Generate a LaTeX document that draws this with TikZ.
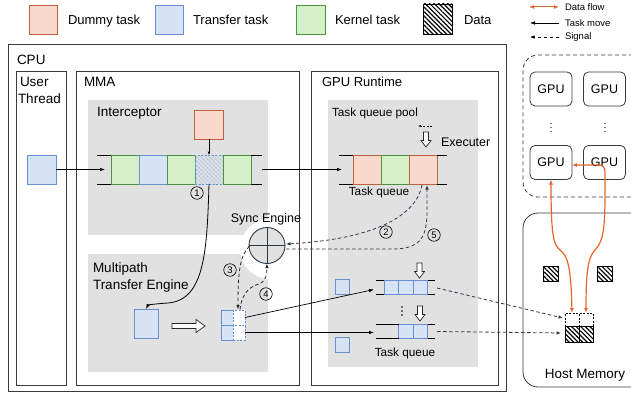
\documentclass[tikz,border=0pt]{standalone}
\usepackage{fontspec}
\setmainfont{Liberation Sans}
\usetikzlibrary{arrows.meta,patterns.meta}
\definecolor{dumF}{HTML}{F9D9CB}
\definecolor{dumD}{HTML}{C0603E}
\definecolor{xfF}{HTML}{D5E3F5}
\definecolor{xfD}{HTML}{6A8FD0}
\definecolor{kF}{HTML}{D3F0C8}
\definecolor{kD}{HTML}{4E9440}
\definecolor{panel}{HTML}{E1E1E1}
\definecolor{edge}{HTML}{3A3A3A}
\definecolor{flow}{HTML}{E5662A}
\definecolor{sig}{HTML}{2C3A48}
\definecolor{hatchblue}{HTML}{B3C8E6}
\begin{document}
\begin{tikzpicture}[x=1pt,y=-1pt,
  every node/.style={inner sep=0pt,outer sep=0pt},
  sz/.style 2 args={minimum width=#1pt,minimum height=#2pt},
  dummy/.style={draw=dumD,fill=dumF,line width=0.8pt},
  xfer/.style={draw=xfD,fill=xfF,line width=0.8pt},
  kern/.style={draw=kD,fill=kF,line width=0.8pt},
  datahatch/.style={draw=black,line width=0.6pt,fill=white,pattern={Lines[angle=-45,distance=3.2pt,line width=1.2pt]},pattern color=black},
  emptycell/.style={draw=#1,fill=white,line width=0.7pt,dash pattern=on 2pt off 1.5pt},
  container/.style={draw=edge,line width=0.8pt},
  lbl/.style={anchor=base west,font=\fontsize{13.5}{15}\selectfont},
  leg/.style={anchor=base west,font=\fontsize{13}{15}\selectfont},
  move/.style={-{Latex[length=5pt,width=3.6pt]},line width=0.7pt},
  signal/.style={-{Latex[length=4.5pt,width=3.5pt]},dash pattern=on 3.5pt off 2.5pt,line width=0.8pt,draw=sig},
  dataflow/.style={{Latex[length=5pt,width=4pt]}-{Latex[length=5pt,width=4pt]},line width=1.2pt,draw=flow},
  qline/.style={line width=0.8pt,draw=black},
  hollow/.style={draw=black!85,fill=white,line width=0.7pt},
  num/.style={circle,draw,line width=0.65pt,minimum size=12.5pt,font=\fontsize{9.5}{10}\selectfont},
  gpu/.style={draw=edge,rounded corners=5pt,line width=0.8pt,minimum width=42pt,minimum height=34pt,font=\fontsize{12.5}{14}\selectfont},
  pics/downarr/.style={code={\draw[hollow] (-2.5,0) -- (2.5,0) -- (2.5,8.5) -- (5,8.5) -- (0,15) -- (-5,8.5) -- (-2.5,8.5) -- cycle;}}
]
\useasboundingbox (0,0) rectangle (631,393);

% ---------------- legend ----------------
\node[dummy,sz={28}{29}] (ldum) at (43,19.5) {};
\node[leg] (ldumt) at (68,25) {Dummy task};
\node[xfer,sz={28}{29}] (lxf) at (169,19.5) {};
\node[leg] (lxft) at (193,24.5) {Transfer task};
\node[kern,sz={29}{29}] (lkn) at (310.5,19.5) {};
\node[leg] (lknt) at (335,25) {Kernel task};
\node[datahatch,sz={29}{30}] (ldat) at (437.5,19) {};
\node[leg] (ldatt) at (464,24.5) {Data};
\coordinate (lf1) at (529,7); \coordinate (lf2) at (559,7);
\draw[dataflow,line width=1pt] (lf1) -- (lf2);
\node[anchor=base west,font=\fontsize{9.5}{10}\selectfont] (lft) at (565,10.5) {Data flow};
\coordinate (lm1) at (530,23); \coordinate (lm2) at (559,23);
\draw[move,line width=0.6pt] (lm2) -- (lm1);
\node[anchor=base west,font=\fontsize{9.5}{10}\selectfont] (lmt) at (565,26.5) {Task move};
\coordinate (ls1) at (530,37); \coordinate (ls2) at (559,37);
\draw[signal,draw=black,line width=0.6pt] (ls2) -- (ls1);
\node[anchor=base west,font=\fontsize{9.5}{10}\selectfont] (lst) at (565,39.5) {Signal};

% ---------------- panels ----------------
\node[fill=panel,sz={180}{135},anchor=north west] (icp) at (88,100) {};
\node[fill=panel,sz={180}{118},anchor=north west] (mte) at (88,254) {};
\node[fill=panel,sz={150}{267},anchor=north west] (pool) at (328,100) {};
\node[circle,fill=white,minimum size=60pt] (halo) at (270,249) {};

% ---------------- containers ----------------
\node[container,sz={498}{347},anchor=north west] (cpu) at (8,44) {};
\node[container,sz={50}{314},anchor=north west] (ut) at (16,71) {};
\node[container,sz={223}{314},anchor=north west] (mma) at (76,71) {};
\node[container,sz={187}{314},anchor=north west] (gpr) at (311,71) {};

\node[lbl] (cput) at (17,65) {CPU};
\node[lbl] (utt1) at (20,87) {User};
\node[lbl] (utt2) at (18,103) {Thread};
\node[lbl] (mmat) at (84,87) {MMA};
\node[lbl] (icpt) at (97,117) {Interceptor};
\node[lbl] (mtet1) at (93,272) {Multipath};
\node[lbl] (mtet2) at (93,289) {Transfer Engine};
\node[lbl,font=\fontsize{13}{15}\selectfont] (gprt) at (322,87) {GPU Runtime};
\node[lbl,font=\fontsize{11.8}{14}\selectfont] (poolt) at (332,117) {Task queue pool};

% ---------------- user thread ----------------
\node[xfer,sz={29}{29}] (utask) at (41.5,169.5) {};

% ---------------- interceptor queue ----------------
\node[kern,sz={28}{29}] (c1) at (125,169.5) {};
\node[xfer,sz={28}{29}] (c2) at (153,169.5) {};
\node[kern,sz={28}{29}] (c3) at (181,169.5) {};
\node[emptycell=xfD,sz={28}{29},pattern={Lines[angle=-45,distance=3pt,line width=1.1pt]},pattern color=hatchblue] (c4) at (209,169.5) {};
\node[kern,sz={28}{29}] (c5) at (237,169.5) {};
\coordinate (iqtl) at (97,155); \coordinate (iqbl) at (97,184);
\coordinate (iqtr) at (262,155); \coordinate (iqbr) at (262,184);
\draw[qline] (iqtl) -- (c1.north west) (iqbl) -- (c1.south west)
             (c5.north east) -- (iqtr) (c5.south east) -- (iqbr);
\node[dummy,sz={29}{29}] (dtop) at (209,124.5) {};
\draw[move,-{Latex[length=3.5pt,width=3pt]},line width=0.6pt] (dtop.south) -- (c4.north);
\coordinate (iqin) at (105,169.5);
\draw[move] (utask.east) -- (iqin);

% ---------------- GPU runtime task queue ----------------
\node[dummy,sz={28}{29}] (g1) at (367,169.5) {};
\node[kern,sz={28}{29}] (g2) at (395,169.5) {};
\node[dummy,sz={28}{29}] (g3) at (423,169.5) {};
\coordinate (gqtl) at (339,155); \coordinate (gqbl) at (339,184);
\coordinate (gqtr) at (447,155); \coordinate (gqbr) at (447,184);
\draw[qline] (gqtl) -- (g1.north west) (gqbl) -- (g1.south west)
             (g3.north east) -- (gqtr) (g3.south east) -- (gqbr);
\coordinate (iqout) at (262,169.5); \coordinate (gqin) at (342,169.5);
\draw[move] (iqout) -- (gqin);
\node[anchor=base,font=\fontsize{11.8}{14}\selectfont] (gqt) at (379,195) {Task queue};
\pic at (426,132) {downarr};
\node[lbl,font=\fontsize{12.5}{14}\selectfont] (exet) at (441,146) {Executer};
\coordinate (es1) at (432,126); \coordinate (es2) at (418,126);
\draw[signal,draw=black,line width=0.6pt,-{Latex[length=3pt,width=2.5pt]},dash pattern=on 2pt off 1.5pt] (es1) -- (es2);

% ---------------- bottom task queues ----------------
\node[xfer,sz={14.5}{14}] (q11) at (391.25,287) {};
\node[xfer,sz={14.5}{14}] (q12) at (405.75,287) {};
\node[xfer,sz={14.5}{14}] (q13) at (420.25,287) {};
\coordinate (q1tl) at (376,280); \coordinate (q1bl) at (376,294);
\coordinate (q1tr) at (435,280); \coordinate (q1br) at (435,294);
\draw[qline] (q1tl) -- (q11.north west) (q1bl) -- (q11.south west)
             (q13.north east) -- (q1tr) (q13.south east) -- (q1br);
\node[xfer,sz={14.5}{14}] (q22) at (405.75,331) {};
\node[xfer,sz={14.5}{14}] (q23) at (420.25,331) {};
\coordinate (q2tl) at (376,324); \coordinate (q2bl) at (376,338);
\coordinate (q2tr) at (435,324); \coordinate (q2br) at (435,338);
\draw[qline] (q2tl) -- (q22.north west) (q2bl) -- (q22.south west)
             (q23.north east) -- (q2tr) (q23.south east) -- (q2br);
\pic at (419.5,263) {downarr};
\pic at (420,306) {downarr};
\foreach \yy in {307,311,315} \fill (402,\yy) circle[radius=0.8pt];
\node[xfer,sz={14}{15}] (sb1) at (342,286.5) {};
\node[xfer,sz={14}{15}] (sb2) at (342,344.5) {};
\node[anchor=base,font=\fontsize{11.8}{14}\selectfont] (bqt) at (405,356) {Task queue};

% ---------------- multipath transfer engine ----------------
\node[xfer,sz={24}{29}] (mt) at (146,323.5) {};
\draw[hollow] (172,323.5) -- (196,323.5) -- (196,319.5) -- (205,326) -- (196,332.5) -- (196,328.5) -- (172,328.5) -- cycle;
\node[xfer,sz={12}{15}] (s11) at (227,317.5) {};
\node[xfer,sz={12}{15}] (s21) at (227,332.5) {};
\node[emptycell=xfD,sz={12}{15}] (s12) at (239,317.5) {};
\node[emptycell=xfD,sz={12}{15}] (s22) at (239,332.5) {};
\coordinate (q1in) at (374,289.5);
\coordinate (q2in) at (374,332.5);
\draw[move] (s12.east) -- (q1in);
\draw[move] (s22.east) -- (q2in);

% arrow 1
\draw[move,line width=0.8pt] (c4.south) .. controls (207,250) and (205,300) .. (168,303) .. controls (153,304) and (148,305) .. (mt.north);
\node[num] (n1) at (197,193) {1};

% ---------------- sync engine ----------------
\node[circle,draw=sig,fill=panel,line width=0.9pt,minimum size=36pt] (sync) at (267,245.5) {};
\draw[sig,line width=0.9pt] (sync.north) -- (sync.south) (sync.west) -- (sync.east);
\node[anchor=base,font=\fontsize{12.5}{14}\selectfont] (synct) at (266,222) {Sync Engine};

% signals 2 and 5
\coordinate (g3b2) at (422,185);
\coordinate (g3b5) at (427,185);
\coordinate (syr1) at (286,244);
\coordinate (syr2) at (286,249);
\draw[signal] (g3b2) .. controls (415,222) and (360,240) .. (syr1);
\draw[signal] (syr2) -- (392,249) .. controls (418,249) and (427,240) .. (427,212) -- (g3b5);
\node[num] (n2) at (386,232) {2};
\node[num] (n5) at (434,235) {5};

% signals 3 and 4
\coordinate (syl) at (249.5,246);
\coordinate (s3end) at (238,309.5);
\coordinate (s4start) at (240,309.5);
\draw[signal,draw=black!85] (syl) .. controls (240,256) and (238,270) .. (s3end);
\draw[signal,draw=black!85] (s4start) .. controls (242,291) and (252,286) .. (259,284) .. controls (266,281) and (267,275) .. (sync.south);
\node[num] (n3) at (230,270) {3};
\node[num] (n4) at (266,294) {4};

% ---------------- GPUs ----------------
\node[draw=edge,dash pattern=on 4pt off 3pt,line width=0.8pt,rounded corners=15pt,sz={132}{142},anchor=north west] (gpus) at (523,55) {};
\node[gpu] (gpu1) at (551,89) {GPU};
\node[gpu] (gpu2) at (604.5,89) {GPU};
\node[gpu] (gpu3) at (551,162.5) {GPU};
\node[gpu] (gpu4) at (604.5,162.5) {GPU};
\foreach \xx in {551,605} \foreach \yy in {123.5,127.5,131.5} \fill (\xx,\yy) circle[radius=0.7pt];

% ---------------- host memory ----------------
\node[draw=edge,line width=0.8pt,rounded corners=15pt,sz={132}{174},anchor=north west] (host) at (523,213) {};
\node[anchor=base,font=\fontsize{13.5}{15}\selectfont] (hostt) at (585,378) {Host Memory};
\node[datahatch,sz={15}{15}] (hd1) at (550.5,273.5) {};
\node[datahatch,sz={15}{15}] (hd2) at (604.5,273.5) {};
\node[emptycell=black,sz={14}{13}] (h11) at (572,319.5) {};
\node[emptycell=black,sz={14}{13}] (h12) at (586,319.5) {};
\node[datahatch,sz={14}{16}] (h21) at (572,334) {};
\node[datahatch,sz={14}{16}] (h22) at (586,334) {};

% dashed from queues to host
\coordinate (q1out) at (437,288);
\coordinate (q2out) at (437,331.5);
\coordinate (h1in) at (563,318);
\coordinate (h2in) at (561,333);
\draw[signal] (q1out) -- (h1in);
\draw[signal] (q2out) -- (h2in);

% data flow
\coordinate (g3in) at (572,165);
\draw[dataflow] (gpu3.south) .. controls (551,232) and (553,245) .. (560,250) .. controls (568,256) and (571,268) .. (h11.north);
\draw[dataflow] (h12.north) .. controls (586,265) and (589,256) .. (596,249) .. controls (603,241) and (605,228) .. (605,195) -- (605,173) .. controls (605,167) and (603,165) .. (598,165) -- (g3in);
\end{tikzpicture}
\end{document}
